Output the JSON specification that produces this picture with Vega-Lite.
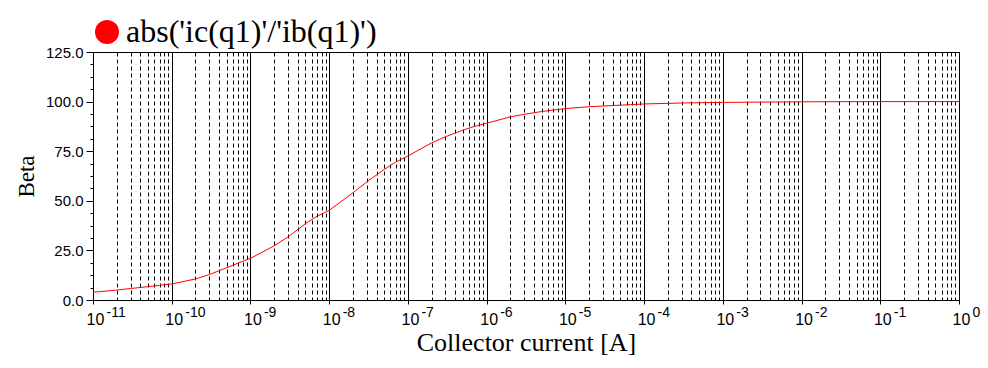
{
  "$schema": "https://vega.github.io/schema/vega-lite/v6.json",
  "width": 866,
  "height": 248,
  "autosize": {"type": "none"},
  "padding": {"left": 93, "top": 52, "right": 29, "bottom": 68},
  "background": "white",
  "config": {
    "view": {"stroke": "black", "strokeWidth": 1},
    "axis": {"labelColor": "black", "titleColor": "black", "domainColor": "black", "tickColor": "black", "gridColor": "black", "gridOpacity": 1}
  },
  "data": {"values": [
    {"ic": 1e-11, "beta": 3.9, "series": "abs('ic(q1)'/'ib(q1)')"},
    {"ic": 2e-11, "beta": 5.0, "series": "abs('ic(q1)'/'ib(q1)')"},
    {"ic": 3e-11, "beta": 5.8, "series": "abs('ic(q1)'/'ib(q1)')"},
    {"ic": 5e-11, "beta": 6.7, "series": "abs('ic(q1)'/'ib(q1)')"},
    {"ic": 7e-11, "beta": 7.4, "series": "abs('ic(q1)'/'ib(q1)')"},
    {"ic": 1e-10, "beta": 8.1, "series": "abs('ic(q1)'/'ib(q1)')"},
    {"ic": 2e-10, "beta": 10.6, "series": "abs('ic(q1)'/'ib(q1)')"},
    {"ic": 3e-10, "beta": 12.8, "series": "abs('ic(q1)'/'ib(q1)')"},
    {"ic": 5e-10, "beta": 16.3, "series": "abs('ic(q1)'/'ib(q1)')"},
    {"ic": 7e-10, "beta": 18.6, "series": "abs('ic(q1)'/'ib(q1)')"},
    {"ic": 1e-9, "beta": 21.0, "series": "abs('ic(q1)'/'ib(q1)')"},
    {"ic": 2e-9, "beta": 27.3, "series": "abs('ic(q1)'/'ib(q1)')"},
    {"ic": 3e-9, "beta": 31.8, "series": "abs('ic(q1)'/'ib(q1)')"},
    {"ic": 5e-9, "beta": 38.5, "series": "abs('ic(q1)'/'ib(q1)')"},
    {"ic": 7e-9, "beta": 42.2, "series": "abs('ic(q1)'/'ib(q1)')"},
    {"ic": 1e-8, "beta": 45.2, "series": "abs('ic(q1)'/'ib(q1)')"},
    {"ic": 2e-8, "beta": 54.0, "series": "abs('ic(q1)'/'ib(q1)')"},
    {"ic": 3e-8, "beta": 59.5, "series": "abs('ic(q1)'/'ib(q1)')"},
    {"ic": 5e-8, "beta": 65.8, "series": "abs('ic(q1)'/'ib(q1)')"},
    {"ic": 7e-8, "beta": 69.5, "series": "abs('ic(q1)'/'ib(q1)')"},
    {"ic": 1e-7, "beta": 72.6, "series": "abs('ic(q1)'/'ib(q1)')"},
    {"ic": 2e-7, "beta": 79.2, "series": "abs('ic(q1)'/'ib(q1)')"},
    {"ic": 3e-7, "beta": 82.3, "series": "abs('ic(q1)'/'ib(q1)')"},
    {"ic": 5e-7, "beta": 85.6, "series": "abs('ic(q1)'/'ib(q1)')"},
    {"ic": 7e-7, "beta": 87.5, "series": "abs('ic(q1)'/'ib(q1)')"},
    {"ic": 1e-6, "beta": 89.1, "series": "abs('ic(q1)'/'ib(q1)')"},
    {"ic": 2e-6, "beta": 92.3, "series": "abs('ic(q1)'/'ib(q1)')"},
    {"ic": 3e-6, "beta": 93.6, "series": "abs('ic(q1)'/'ib(q1)')"},
    {"ic": 5e-6, "beta": 95.0, "series": "abs('ic(q1)'/'ib(q1)')"},
    {"ic": 1e-5, "beta": 96.5, "series": "abs('ic(q1)'/'ib(q1)')"},
    {"ic": 2e-5, "beta": 97.4, "series": "abs('ic(q1)'/'ib(q1)')"},
    {"ic": 5e-5, "beta": 98.2, "series": "abs('ic(q1)'/'ib(q1)')"},
    {"ic": 1e-4, "beta": 98.8, "series": "abs('ic(q1)'/'ib(q1)')"},
    {"ic": 3e-4, "beta": 99.3, "series": "abs('ic(q1)'/'ib(q1)')"},
    {"ic": 1e-3, "beta": 99.6, "series": "abs('ic(q1)'/'ib(q1)')"},
    {"ic": 1e-2, "beta": 99.9, "series": "abs('ic(q1)'/'ib(q1)')"},
    {"ic": 1e-1, "beta": 100.0, "series": "abs('ic(q1)'/'ib(q1)')"},
    {"ic": 1, "beta": 100.0, "series": "abs('ic(q1)'/'ib(q1)')"}
  ]},
  "resolve": {"axis": {"x": "independent", "y": "independent"}},
  "layer": [
    {
      "mark": {"type": "point", "opacity": 0},
      "encoding": {
        "x": {"field": "ic", "type": "quantitative",
          "scale": {"type": "log", "domain": [1e-11, 1], "nice": false},
          "axis": {"orient": "bottom", "title": null, "labels": false, "ticks": false, "tickSize": 0, "domain": false,
            "grid": true, "gridDash": [4, 3], "gridWidth": 1,
            "values": [2e-11,3e-11,4e-11,5e-11,6e-11,7e-11,8e-11,9e-11,
              2e-10,3e-10,4e-10,5e-10,6e-10,7e-10,8e-10,9e-10,
              2e-9,3e-9,4e-9,5e-9,6e-9,7e-9,8e-9,9e-9,
              2e-8,3e-8,4e-8,5e-8,6e-8,7e-8,8e-8,9e-8,
              2e-7,3e-7,4e-7,5e-7,6e-7,7e-7,8e-7,9e-7,
              2e-6,3e-6,4e-6,5e-6,6e-6,7e-6,8e-6,9e-6,
              2e-5,3e-5,4e-5,5e-5,6e-5,7e-5,8e-5,9e-5,
              2e-4,3e-4,4e-4,5e-4,6e-4,7e-4,8e-4,9e-4,
              2e-3,3e-3,4e-3,5e-3,6e-3,7e-3,8e-3,9e-3,
              2e-2,3e-2,4e-2,5e-2,6e-2,7e-2,8e-2,9e-2,
              2e-1,3e-1,4e-1,5e-1,6e-1,7e-1,8e-1,9e-1]}},
        "y": {"field": "beta", "type": "quantitative",
          "scale": {"domain": [0, 125], "nice": false, "zero": true},
          "axis": {"orient": "left", "title": null, "labels": false, "grid": false, "domain": false,
            "tickSize": 3, "values": [6.25, 12.5, 18.75, 31.25, 37.5, 43.75, 56.25, 62.5, 68.75, 81.25, 87.5, 93.75, 106.25, 112.5, 118.75]}}
      }
    },
    {
      "mark": {"type": "point", "opacity": 0},
      "encoding": {
        "x": {"field": "ic", "type": "quantitative",
          "scale": {"type": "log", "domain": [1e-11, 1], "nice": false},
          "axis": {"orient": "bottom", "title": null, "ticks": false, "tickSize": 0, "domain": false, "grid": false,
            "values": [1e-11, 1e-10, 1e-9, 1e-8, 1e-7, 1e-6, 1e-5, 1e-4, 1e-3, 1e-2, 1e-1, 1],
            "labelExpr": "'' + round(log(datum.value) / LN10)",
            "labelFont": "Liberation Sans", "labelFontSize": 14, "labelAlign": "left", "labelBaseline": "top",
            "labelOffset": 13, "labelPadding": 5, "labelOverlap": false, "labelFlush": false, "labelBound": false}},
        "y": {"field": "beta", "type": "quantitative",
          "scale": {"domain": [0, 125], "nice": false, "zero": true},
          "axis": null}
      }
    },
    {
      "mark": {"type": "line", "strokeWidth": 1},
      "encoding": {
        "x": {"field": "ic", "type": "quantitative",
          "scale": {"type": "log", "domain": [1e-11, 1], "nice": false},
          "axis": {"orient": "bottom", "title": "Collector current  [A]",
            "titleFont": "Liberation Serif", "titleFontSize": 26, "titleFontWeight": "normal",
            "titleBaseline": "top", "titleY": 29,
            "values": [1e-11, 1e-10, 1e-9, 1e-8, 1e-7, 1e-6, 1e-5, 1e-4, 1e-3, 1e-2, 1e-1, 1],
            "labelExpr": "'10'", "labelFont": "Liberation Sans", "labelFontSize": 16, "labelAlign": "center",
            "labelBaseline": "top", "labelOffset": 2, "labelPadding": 7, "tickSize": 4, "labelOverlap": false,
            "labelFlush": false, "labelBound": false,
            "grid": true, "gridWidth": 1, "domain": true, "domainWidth": 1}},
        "y": {"field": "beta", "type": "quantitative",
          "scale": {"domain": [0, 125], "nice": false, "zero": true},
          "axis": {"orient": "left", "title": "Beta", "titleFont": "Liberation Serif", "titleFontSize": 23,
            "titleFontWeight": "normal", "titleAngle": -90, "titleX": -60, "titleY": 124,
            "titleAlign": "center", "titleBaseline": "alphabetic",
            "values": [0, 25, 50, 75, 100, 125], "format": ".1f",
            "labelFont": "Liberation Sans", "labelFontSize": 15, "labelPadding": 3, "tickSize": 7,
            "grid": false, "domain": true, "labelFlush": false}},
        "color": {"field": "series", "type": "nominal",
          "scale": {"range": ["#ff0000"]},
          "legend": {"orient": "none", "legendX": -2, "legendY": -36, "title": null, "padding": 0,
            "symbolType": "circle", "symbolSize": 576, "symbolFillColor": "#ff0000", "symbolStrokeColor": "#ff0000",
            "symbolStrokeWidth": 0, "symbolOpacity": 1,
            "labelFont": "Liberation Serif", "labelFontSize": 32, "labelOffset": 3, "labelColor": "black",
            "labelLimit": 0, "labelBaseline": "middle"}}
      }
    }
  ]
}
